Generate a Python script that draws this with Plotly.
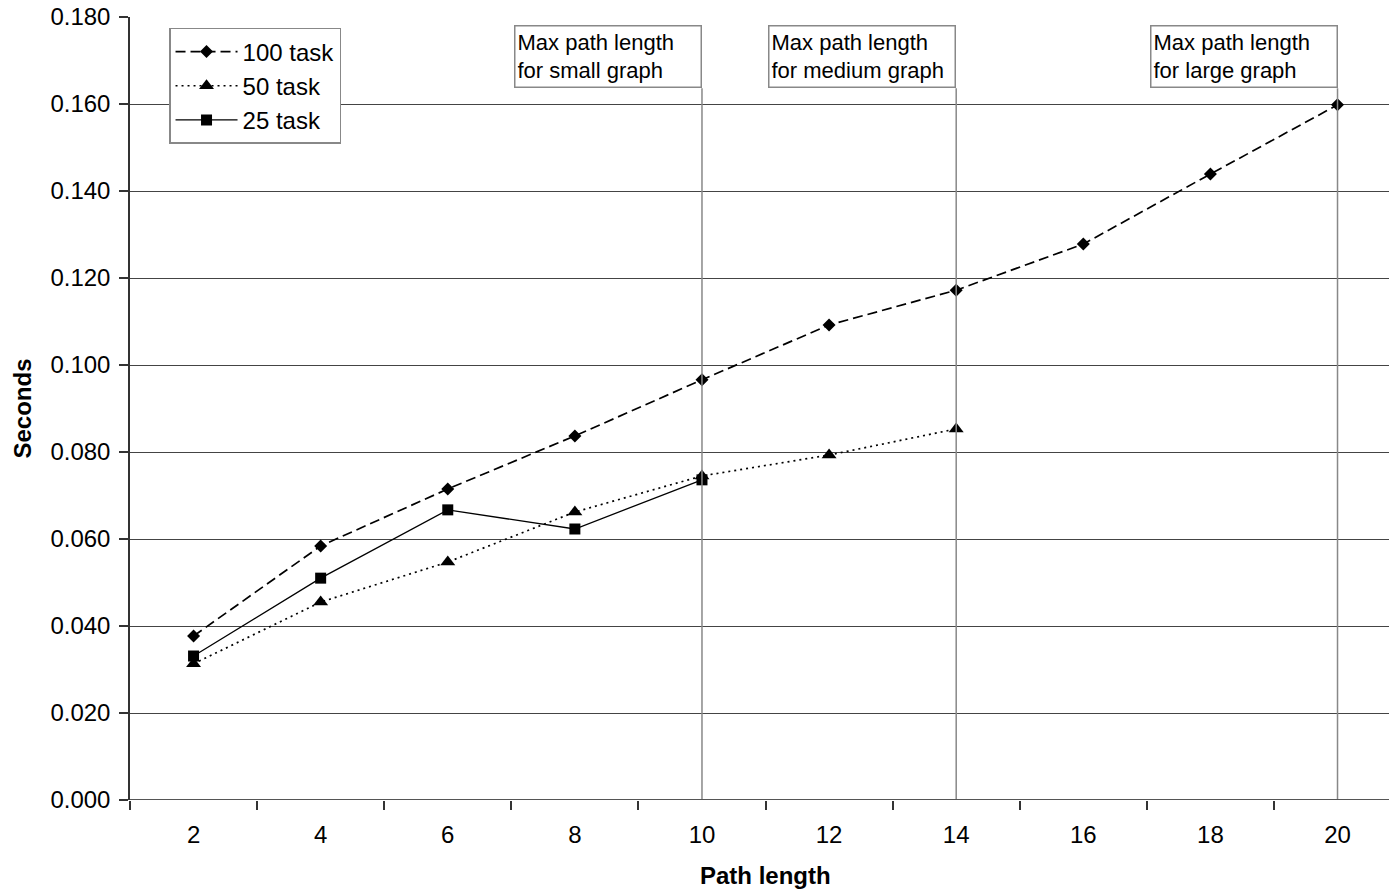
import plotly.graph_objects as go

path_len = [2, 4, 6, 8, 10, 12, 14, 16, 18, 20]
task100 = [0.0377, 0.0584, 0.0715, 0.0837, 0.0966, 0.1092, 0.1172, 0.1278, 0.1439, 0.1598]
path_len50 = [2, 4, 6, 8, 10, 12, 14]
task50 = [0.0313, 0.0455, 0.0547, 0.0662, 0.0745, 0.0793, 0.0853]
path_len25 = [2, 4, 6, 8, 10]
task25 = [0.0331, 0.0510, 0.0667, 0.0623, 0.0736]
y_ticks = [0.0, 0.02, 0.04, 0.06, 0.08, 0.10, 0.12, 0.14, 0.16, 0.18]
marker_x = [10, 14, 20]
marker_text = ["Max path length<br>for small graph", "Max path length<br>for medium graph",
               "Max path length<br>for large graph"]

FONT = "Liberation Sans, Arial, sans-serif"

fig = go.Figure()
fig.add_trace(go.Scatter(x=path_len, y=task100, name="100 task", mode="lines+markers",
                         line=dict(color="black", width=1.7, dash="10px,5px"),
                         marker=dict(symbol="diamond", size=10, color="black")))
fig.add_trace(go.Scatter(x=path_len50, y=task50, name="50 task", mode="lines+markers",
                         line=dict(color="black", width=1.7, dash="2px,4px"),
                         marker=dict(symbol="triangle-up", size=13, color="black")))
fig.add_trace(go.Scatter(x=path_len25, y=task25, name="25 task", mode="lines+markers",
                         line=dict(color="black", width=1.3),
                         marker=dict(symbol="square", size=11, color="black")))

box_top = 0.9898
box_bottom = 0.909
for xv, txt in zip(marker_x, marker_text):
    fig.add_shape(type="line", xref="x", yref="paper", x0=xv, x1=xv, y0=0, y1=box_bottom,
                  line=dict(color="#888888", width=1.5), layer="above")
    fig.add_annotation(x=xv, xref="x", y=box_top, yref="paper", text=txt, showarrow=False,
                       xanchor="right", yanchor="top", align="left", width=181, height=56,
                       bordercolor="#888888", borderwidth=1.5, borderpad=2, bgcolor="white",
                       font=dict(family=FONT, size=22, color="black"))

# x-axis title centred like the reference (axis extends slightly past the window edge)
fig.add_annotation(x=0.5044, xref="paper", y=-0.077, yref="paper", text="<b>Path length</b>",
                   showarrow=False, xanchor="center", yanchor="top",
                   font=dict(family=FONT, size=24, color="black"))

fig.update_layout(
    width=1389, height=890,
    margin=dict(l=130, r=0, t=17, b=90),
    paper_bgcolor="white", plot_bgcolor="white",
    font=dict(family=FONT, size=24, color="black"),
    showlegend=True,
    legend=dict(x=0.031, y=0.986, xanchor="left", yanchor="top",
                bordercolor="#888888", borderwidth=1.5, bgcolor="white",
                font=dict(family=FONT, size=24, color="black"),
                itemwidth=62, tracegroupgap=0, traceorder="normal"),
    xaxis=dict(range=[1, 20.81], tickvals=path_len, ticktext=[str(v) for v in path_len],
               ticks="", showgrid=False, zeroline=False, automargin=False,
               showline=False, ticklabelstandoff=18,
               minor=dict(tickvals=list(range(1, 21, 2)), ticks="outside", ticklen=9,
                          tickcolor="#333", tickwidth=1.5, showgrid=False),
               tickfont=dict(family=FONT, size=24)),
    yaxis=dict(range=[0, 0.18], tickvals=y_ticks, ticktext=[f"{v:.3f}" for v in y_ticks],
               ticks="outside", ticklen=9, tickcolor="#333", tickwidth=1.5,
               showgrid=True, gridcolor="#444", gridwidth=1.2, automargin=False,
               zeroline=False, showline=True, linecolor="#333", linewidth=1.5,
               ticklabelstandoff=4,
               title=dict(text="<b>Seconds</b>", font=dict(family=FONT, size=24), standoff=12),
               tickfont=dict(family=FONT, size=24)),
)
fig.add_shape(type="line", xref="paper", yref="y", x0=0, x1=1, y0=0, y1=0,
              line=dict(color="#555", width=2), layer="above")

fig.write_html("out.html", config={"displayModeBar": False},
               post_script="document.body.style.margin='0';document.body.style.overflow='hidden';")
